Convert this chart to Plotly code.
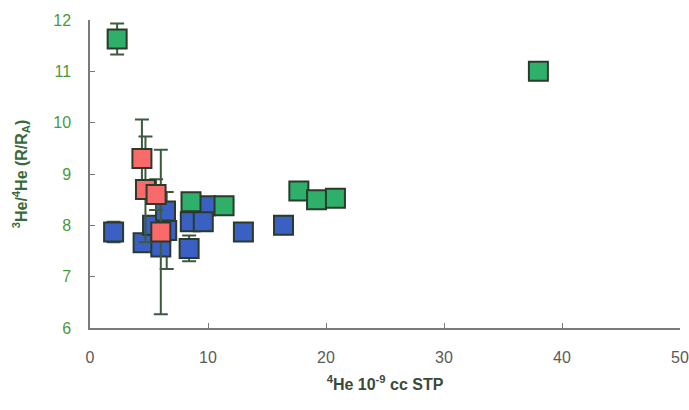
import plotly.graph_objects as go

# Blue series
blue_x = [2.0, 4.5, 5.3, 6.0, 6.4, 6.5, 8.5, 8.4, 9.8, 9.6, 13.0, 16.4]
blue_y = [7.87, 7.66, 8.0, 7.58, 8.28, 7.9, 8.07, 7.55, 8.38, 8.07, 7.87, 8.0]
blue_err = [0.2, 0.15, 0.1, 0.1, 0.1, 0.75, 0.15, 0.25, 0.1, 0.1, 0.1, 0.1]

# Green series
green_x = [2.3, 8.56, 11.36, 17.7, 19.2, 20.8, 38.0]
green_y = [11.63, 8.46, 8.38, 8.67, 8.5, 8.53, 11.0]
green_err = [0.3, 0.1, 0.1, 0.1, 0.1, 0.1, 0.1]

# Red series
red_x = [4.4, 4.7, 5.6, 6.0]
red_y = [9.3, 8.7, 8.6, 7.87]
red_err = [0.76, 1.03, 0.3, 1.6]

x_ticks = [0, 10, 20, 30, 40, 50]
y_ticks = [6, 7, 8, 9, 10, 11, 12]

err_color = "#3d5a3d"
edge = "#2b3a2b"

fig = go.Figure()
for xs, ys, es, col in [(blue_x, blue_y, blue_err, "#3b60c4"),
                        (green_x, green_y, green_err, "#2eaf6a"),
                        (red_x, red_y, red_err, "#fa6a6a")]:
    fig.add_trace(go.Scatter(
        x=xs, y=ys, mode="markers",
        error_y=dict(type="data", array=es, visible=True, color=err_color,
                     thickness=2, width=7),
        marker=dict(symbol="square", size=19, color=col,
                    line=dict(color=edge, width=2)),
        showlegend=False, cliponaxis=False))

fig.update_layout(
    width=689, height=410,
    margin=dict(l=90, r=9, t=20, b=82),
    plot_bgcolor="white", paper_bgcolor="white",
    font=dict(family="Liberation Sans, Arial, sans-serif"),
)
fig.update_xaxes(
    range=[0, 50], tickvals=x_ticks, showgrid=False, zeroline=False,
    showline=True, linecolor="#7a7a7a", linewidth=1.5,
    ticks="inside", ticklen=5, tickcolor="#7a7a7a",
    ticklabelstandoff=14, automargin=False,
    tickfont=dict(size=16, color="#5a5a5a"),
    title=dict(text="<b><sup>4</sup>He 10<sup>-9</sup> cc STP</b>",
               font=dict(size=16, color="#3a4a3a"), standoff=14),
)
fig.update_yaxes(
    range=[6, 12], tickvals=y_ticks, showgrid=False, zeroline=False,
    showline=True, linecolor="#7a7a7a", linewidth=1.5,
    ticks="inside", ticklen=5, tickcolor="#7a7a7a",
    ticklabelstandoff=14, automargin=False,
    tickfont=dict(size=16, color="#4a9a3a"),
    title=dict(text="<b><sup>3</sup>He/<sup>4</sup>He (R/R<sub>A</sub>)</b>",
               font=dict(size=16, color="#3a6a3a"), standoff=22),
)

fig.write_html("out.html")
